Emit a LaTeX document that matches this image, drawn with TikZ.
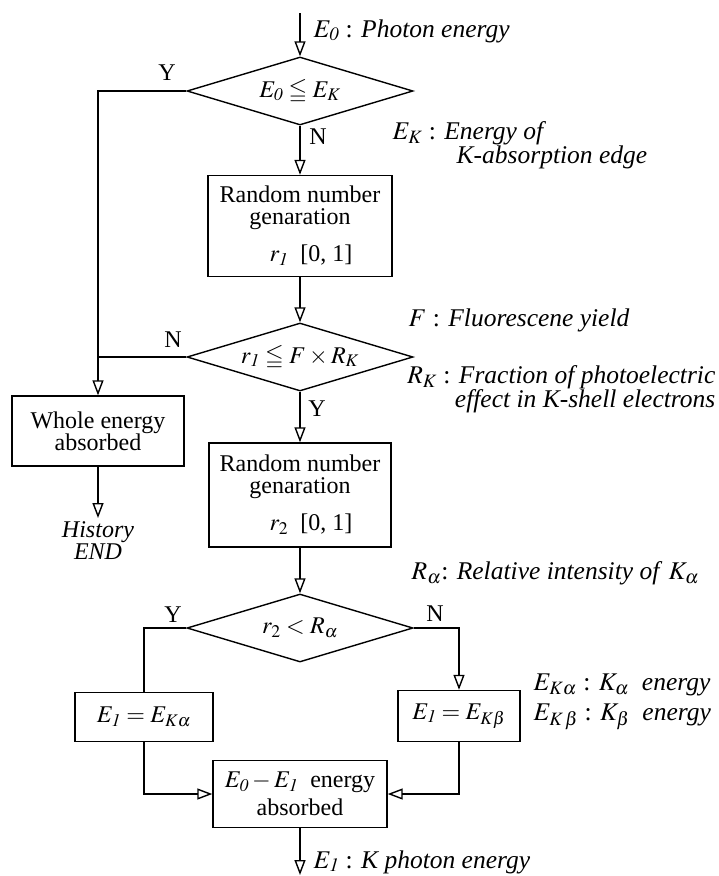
\documentclass[tikz,border=0pt]{standalone}
\usepackage{amsmath}
\usepackage{amssymb}
\usepackage{mathptmx}
\usepackage{fontspec}
\setmainfont{Liberation Serif}
\usetikzlibrary{shapes,arrows.meta,positioning,calc}

\begin{document}
\begin{tikzpicture}[
    x=1pt, y=-1pt,
    line width=1.4pt,
    every node/.style={align=center, font=\fontsize{24}{22}\selectfont},
    process/.style={rectangle, draw, line width=1.4pt, inner sep=0pt},
    decision/.style={diamond, draw, line width=1.4pt, minimum width=226pt, minimum height=68pt, inner sep=0pt, aspect=3.3},
    flow/.style={-{Triangle[open, length=15pt, width=11pt]}},
    note/.style={anchor=west, inner sep=0pt, align=left, font=\fontsize{25.5}{24}\selectfont},
    yn/.style={inner sep=0pt}
]
\useasboundingbox (0,0) rectangle (719,876);

% Main column
\coordinate (photon_in) at (300,13);
\node[decision] (edge_test) at (300,91) {$E_{\mathit{0}}\leqq E_K$};
\node[process, minimum width=184pt, minimum height=101pt] (rand_one) at (300,226) {Random number\\genaration\\[15pt]\hspace*{22pt}$r_{\mathit{1}}$\enspace[0, 1]};
\node[decision] (yield_test) at (300,357) {$r_{\mathit{1}}\leqq F\times R_K$};
\node[process, minimum width=182pt, minimum height=104pt] (rand_two) at (300,495) {Random number\\genaration\\[15pt]\hspace*{22pt}$r_2$\enspace[0, 1]};
\node[decision] (alpha_test) at (300,628) {$r_2<R_\alpha$};
\node[process, minimum width=174pt, minimum height=67pt] (rest_abs) at (300,794) {$E_{\mathit{0}}-E_{\mathit{1}}$\enspace energy\\[6pt]absorbed};
\coordinate (photon_out) at (300,875);

% Side branches
\node[process, minimum width=172pt, minimum height=70pt] (whole_abs) at (98,431) {Whole energy\\absorbed};
\node (history_end) at (98,541) {\textit{History}\\\textit{END}};
\node[process, minimum width=138pt, minimum height=49pt] (e_kalpha) at (144,717) {$E_{\mathit{1}}=E_{K\alpha}$};
\node[process, minimum width=122pt, minimum height=51pt] (e_kbeta) at (459,716) {$E_{\mathit{1}}=E_{K\beta}$};

% Connectors
\draw[flow] (photon_in) -- (edge_test.north);
\draw[flow] (edge_test.south) -- (rand_one.north);
\draw[flow] (rand_one.south) -- (yield_test.north);
\draw[flow] (yield_test.south) -- (rand_two.north);
\draw[flow] (rand_two.south) -- (alpha_test.north);
\draw[flow] (rest_abs.south) -- (photon_out);
\draw[flow] (edge_test.west) -| (whole_abs.north);
\draw (yield_test.west) -- (yield_test.west -| whole_abs.north);
\draw[flow] (whole_abs.south) -- (history_end.north);
\draw (alpha_test.west) -| (e_kalpha.north);
\draw[flow] (alpha_test.east) -| (e_kbeta.north);
\foreach \src/\side in {e_kalpha/west, e_kbeta/east}
    \draw[flow] (\src.south) |- (rest_abs.\side);

% Y/N labels
\node[yn] (y_edge) at (167,73) {Y};
\node[yn] (n_edge) at (318,137) {N};
\node[yn] (n_yield) at (173,340) {N};
\node[yn] (y_yield) at (317,409) {Y};
\node[yn] (y_alpha) at (173,615) {Y};
\node[yn] (n_alpha) at (435,614) {N};

% Notes
\node[note] (photon_note) at (313,31) {$E_{\mathit{0}}$ : \textit{Photon energy}};
\node[note] (edge_note) at (392,145) {$E_K$ : \textit{Energy of}\\\hspace*{64pt}\textit{K-absorption edge}};
\node[note] (yield_note) at (408,320) {$F$ : \textit{Fluorescene yield}};
\node[note, anchor=east, align=right] (frac_note) at (716,389) {$R_K$ : \textit{Fraction of photoelectric}\\\textit{effect in K-shell electrons}};
\node[note] (alpha_note) at (411,573) {$R_\alpha$: \textit{Relative intensity of} $K_\alpha$};
\node[note] (line_note) at (533,702) {$E_{K\alpha}$ : $K_\alpha$\enspace\textit{energy}\\[6pt]$E_{K\,\beta}$ : $K_\beta$\enspace\textit{energy}};
\node[note] (k_note) at (313,862) {$E_{\mathit{1}}$ : \textit{K photon energy}};

\end{tikzpicture}
\end{document}
